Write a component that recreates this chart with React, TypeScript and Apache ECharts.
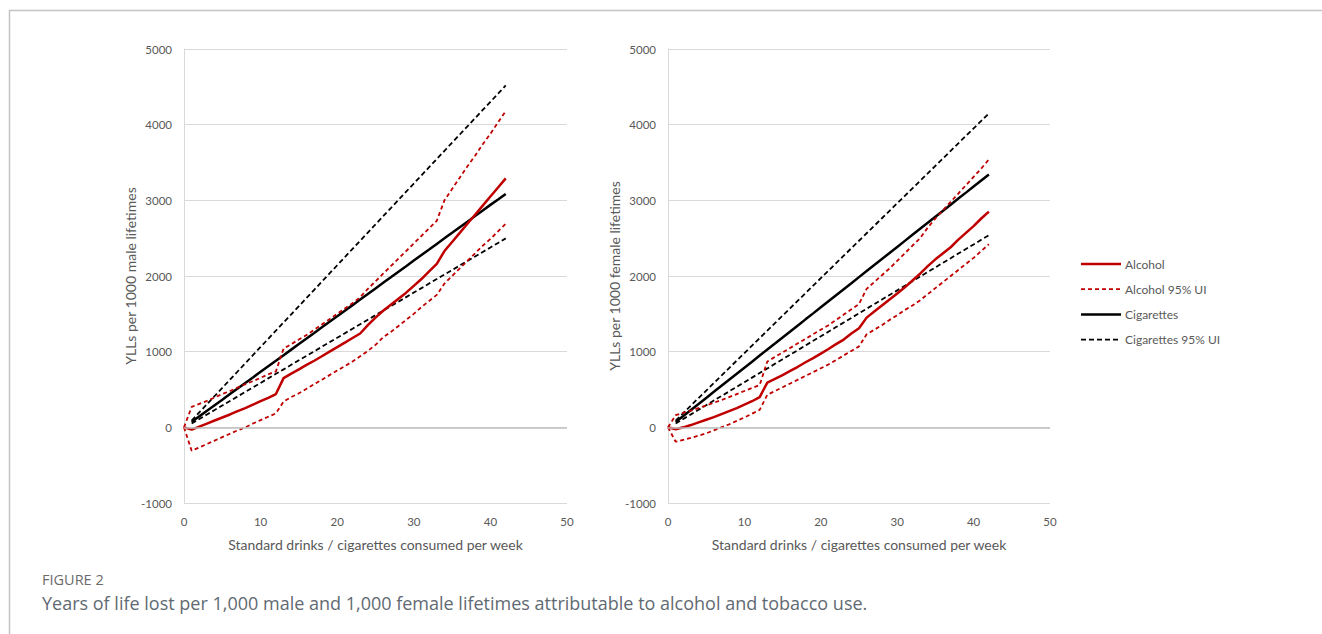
import React, { useEffect, useRef } from "react";
import * as echarts from "echarts";

const drinks = [0,1,2,3,4,5,6,7,8,9,10,11,12,13,14,15,16,17,18,19,20,21,22,23,24,25,26,27,28,29,30,31,32,33,34,35,36,37,38,39,40,41,42];

const maleAlcohol = [0,-30,10,50,90,130,170,215,255,300,345,390,440,650,710,765,825,880,940,1000,1060,1120,1180,1240,1350,1450,1540,1620,1700,1780,1870,1960,2060,2160,2330,2450,2570,2690,2810,2930,3050,3170,3290];
const maleAlcoholHi = [0,270,310,350,395,440,480,525,570,610,655,700,740,1040,1100,1160,1220,1290,1360,1430,1500,1570,1640,1720,1830,1930,2030,2130,2230,2330,2430,2530,2630,2730,3000,3150,3300,3450,3590,3740,3880,4030,4180];
const maleAlcoholLo = [0,-310,-265,-220,-175,-130,-85,-40,0,50,95,140,185,340,400,450,510,570,630,690,750,810,870,940,1010,1090,1190,1260,1340,1420,1500,1590,1670,1750,1900,2000,2100,2200,2300,2400,2490,2590,2690];
const maleCig = [null,70,145,218,292,365,440,513,587,660,734,807,880,954,1027,1100,1175,1248,1322,1395,1468,1542,1615,1690,1762,1836,1910,1983,2057,2130,2204,2277,2350,2424,2498,2571,2645,2718,2792,2865,2940,3012,3085];
const maleCigHi = [null,90,198,306,414,522,630,738,846,954,1062,1170,1278,1386,1494,1602,1710,1818,1926,2034,2142,2250,2358,2466,2574,2682,2790,2898,3006,3114,3222,3330,3438,3546,3654,3762,3870,3978,4086,4194,4302,4410,4518];
const maleCigLo = [null,50,110,170,229,289,349,408,468,528,587,647,707,766,826,886,945,1005,1065,1124,1184,1244,1303,1363,1423,1482,1542,1602,1661,1721,1781,1840,1900,1960,2019,2079,2139,2198,2258,2318,2377,2437,2497];

const femaleAlcohol = [0,-25,0,30,65,100,135,175,215,255,300,345,400,590,640,690,745,800,860,915,975,1035,1100,1160,1240,1310,1450,1530,1610,1690,1770,1850,1940,2030,2130,2220,2300,2380,2480,2570,2660,2760,2850];
const femaleAlcoholHi = [0,160,190,220,255,290,325,360,400,440,480,520,560,870,930,990,1050,1110,1170,1230,1290,1350,1420,1490,1560,1630,1830,1920,2010,2100,2200,2300,2400,2500,2640,2760,2870,2980,3090,3200,3310,3420,3540];
const femaleAlcoholLo = [0,-190,-165,-140,-110,-80,-40,0,40,85,130,180,230,430,480,530,580,630,680,730,780,830,890,950,1010,1070,1230,1290,1350,1420,1480,1550,1610,1680,1760,1840,1920,2000,2080,2160,2240,2330,2420];
const femaleCig = [null,70,150,230,309,389,469,549,629,708,788,868,948,1028,1107,1187,1267,1347,1427,1506,1586,1666,1746,1826,1905,1985,2065,2145,2225,2304,2384,2464,2544,2624,2703,2783,2863,2943,3023,3102,3182,3262,3342];
const femaleCigHi = [null,90,189,288,387,486,585,684,783,882,981,1080,1179,1278,1377,1476,1575,1674,1773,1872,1971,2070,2169,2268,2367,2466,2565,2664,2763,2862,2961,3060,3159,3258,3357,3456,3555,3654,3753,3852,3951,4050,4149];
const femaleCigLo = [null,50,111,171,232,293,354,414,475,536,596,657,718,778,839,900,961,1021,1082,1143,1203,1264,1325,1385,1446,1507,1568,1628,1689,1750,1810,1871,1932,1992,2053,2114,2175,2235,2296,2357,2417,2478,2539];

const seriesNames = ["Alcohol", "Alcohol 95% UI", "Cigarettes", "Cigarettes 95% UI"];
const yAxisNames = ["YLLs per 1000 male lifetimes", "YLLs per 1000 female lifetimes"];
const xAxisName = "Standard drinks / cigarettes consumed per week";
const figureLabel = "FIGURE 2";
const caption = "Years of life lost per 1,000 male and 1,000 female lifetimes attributable to alcohol and tobacco use.";

const RED = "#c00000";
const BLACK = "#000000";
const FONT = "Lato, 'Noto Sans', sans-serif";
const TXT = "#595959";

function pairs(vals: (number | null)[]) {
  return drinks.map((x, i) => [x, vals[i]]);
}

export default function App() {
  const ref = useRef<HTMLDivElement>(null);
  useEffect(() => {
    if (!ref.current) return;
    const chart = echarts.init(ref.current, null, { renderer: "svg" });
    const grids = [
      { left: 184, top: 49, width: 383, height: 454 },
      { left: 668, top: 49, width: 382, height: 454 },
    ];
    const panels = [
      [maleAlcohol, maleAlcoholHi, maleAlcoholLo, maleCig, maleCigHi, maleCigLo],
      [femaleAlcohol, femaleAlcoholHi, femaleAlcoholLo, femaleCig, femaleCigHi, femaleCigLo],
    ];
    const styles = [
      { color: RED, width: 2.5, type: "solid" as any },
      { color: RED, width: 1.8, type: [4, 3] as any },
      { color: BLACK, width: 2.5, type: "solid" as any },
      { color: BLACK, width: 1.8, type: [5, 3] as any },
    ];
    const series: any[] = [];
    panels.forEach((p, gi) => {
      const base = { type: "line", xAxisIndex: gi, yAxisIndex: gi, symbol: "none", showSymbol: false, silent: true, connectNulls: false };
      series.push({ ...base, name: seriesNames[0], data: pairs(p[0]), lineStyle: styles[0], z: 4,
        markLine: { silent: true, symbol: "none", label: { show: false }, lineStyle: { color: "#bfbfbf", width: 1.6, type: "solid" }, data: [{ yAxis: 0 }] } });
      series.push({ ...base, name: seriesNames[1], data: pairs(p[1]), lineStyle: styles[1], z: 4 });
      series.push({ ...base, name: seriesNames[1], data: pairs(p[2]), lineStyle: styles[1], z: 4 });
      series.push({ ...base, name: seriesNames[2], data: pairs(p[3]), lineStyle: styles[2], z: 3 });
      series.push({ ...base, name: seriesNames[3], data: pairs(p[4]), lineStyle: styles[3], z: 3 });
      series.push({ ...base, name: seriesNames[3], data: pairs(p[5]), lineStyle: styles[3], z: 3 });
    });
    const xAxes = [0, 1].map((gi) => ({
      type: "value", gridIndex: gi, min: 0, max: 50, interval: 10,
      name: xAxisName, nameLocation: "middle", nameGap: 34,
      nameTextStyle: { color: TXT, fontSize: 14, fontFamily: FONT },
      axisLine: { show: false, onZero: false }, axisTick: { show: false },
      axisLabel: { color: TXT, fontSize: 11.5, fontFamily: FONT, margin: 12 },
      splitLine: { show: false },
    }));
    const yAxes = [0, 1].map((gi) => ({
      type: "value", gridIndex: gi, min: -1000, max: 5000, interval: 1000,
      name: yAxisNames[gi], nameLocation: "middle", nameGap: 47,
      nameTextStyle: { color: TXT, fontSize: 14, fontFamily: FONT },
      axisLine: { show: true, lineStyle: { color: "#d9d9d9", width: 1 } }, axisTick: { show: false },
      axisLabel: { color: TXT, fontSize: 11.5, fontFamily: FONT, margin: 12, formatter: (v: number) => String(v) },
      splitLine: { show: true, lineStyle: { color: "#d9d9d9", width: 1 } },
    }));
    const legendGraphics: any[] = [];
    seriesNames.forEach((n, i) => {
      const y = 264 + i * 25.2;
      const s = styles[i];
      legendGraphics.push({ type: "line", silent: true, shape: { x1: 1081, y1: y, x2: 1121, y2: y },
        style: { stroke: s.color, lineWidth: s.width, lineDash: s.type === "solid" ? null : s.type } });
      legendGraphics.push({ type: "text", silent: true, x: 1125, y: y, style: { text: n, fill: TXT, font: `12px ${FONT}`, verticalAlign: "middle", align: "left" } });
    });
    chart.setOption({
      animation: false,
      backgroundColor: "#ffffff",
      grid: grids,
      xAxis: xAxes,
      yAxis: yAxes,
      graphic: [
        { type: "polyline", silent: true, shape: { points: [[9.5, 634], [9.5, 10.5], [1322, 10.5]] }, style: { stroke: "#c4c4c4", lineWidth: 1.5, fill: null } },
        ...legendGraphics,
        { type: "text", left: 42, top: 572, style: { text: figureLabel, fill: "#6b6b6b", font: "14.5px 'Open Sans', sans-serif" } },
        { type: "text", left: 42, top: 594, style: { text: caption, fill: "#5f6a72", font: "18px 'Open Sans', sans-serif" } },
      ],
      series,
    });
    return () => chart.dispose();
  }, []);
  return <div ref={ref} style={{ position: "fixed", left: 0, top: 0, width: 1322, height: 634, background: "#fff" }} />;
}
